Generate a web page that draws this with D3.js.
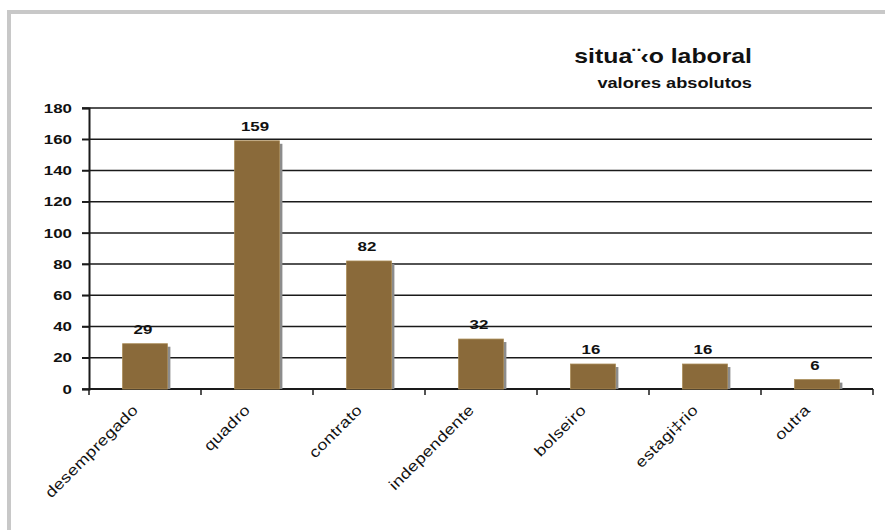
<!DOCTYPE html>
<meta charset="utf-8">
<script src="https://d3js.org/d3.v7.min.js"></script>
<style>
  body { margin: 0; background: #fff; }
  text { font-family: Arial, "Liberation Sans", sans-serif; }
</style>
<div id="chart"></div>
<script>

// data
var categories = ["desempregado", "quadro", "contrato", "independente", "bolseiro", "estagi‡rio", "outra"];
var values = [29, 159, 82, 32, 16, 16, 6];
var yTicks = [0, 20, 40, 60, 80, 100, 120, 140, 160, 180];

var width = 885,
    height = 530;

// the original picture is stretched sideways, so its text is too
var stretch = 1.3;

var svg = d3.select("#chart")
    .append("svg")
        .attr("width", width)
        .attr("height", height);

// grey frame (top and left)
svg.append("rect").attr("x", 7).attr("y", 10).attr("width", width - 7).attr("height", 4).attr("fill", "#c8c8c8");
svg.append("rect").attr("x", 7).attr("y", 10).attr("width", 4).attr("height", height - 10).attr("fill", "#c8c8c8");

var x = d3.scaleBand()
    .domain(categories)
    .range([89, 873])
    .paddingInner(0)
    .paddingOuter(0);

var y = d3.scaleLinear()
    .domain([0, 180])
    .range([389, 108]);

// gridlines
svg.append("g")
    .selectAll("line")
    .data(yTicks)
    .enter()
    .append("line")
        .attr("x1", 82)
        .attr("x2", 872)
        .attr("y1", function(d) { return y(d); })
        .attr("y2", function(d) { return y(d); })
        .attr("stroke", "#1a1a1a")
        .attr("stroke-width", 1.5);

// y axis
var yAxis = svg.append("g")
    .attr("transform", "translate(89,0)")
    .call(d3.axisLeft(y).tickValues(yTicks).tickSize(7).tickPadding(10));
yAxis.select(".domain").attr("stroke", "#1a1a1a").attr("stroke-width", 2);
yAxis.selectAll(".tick line").attr("stroke", "#1a1a1a").attr("stroke-width", 1.5);
yAxis.selectAll("text")
    .attr("x", -17 / stretch)
    .attr("transform", "scale(" + stretch + ",1)")
    .style("font-size", "13px")
    .style("font-weight", "bold")
    .attr("fill", "#111");

// x axis
var xAxis = svg.append("g")
    .attr("transform", "translate(0,389)");
xAxis.append("line")
    .attr("x1", 89).attr("x2", 873)
    .attr("stroke", "#1a1a1a").attr("stroke-width", 2);
xAxis.selectAll(".xtick")
    .data(categories.concat(["end"]))
    .enter()
    .append("line")
        .attr("x1", function(d, i) { return i < categories.length ? x(d) : x.range()[1]; })
        .attr("x2", function(d, i) { return i < categories.length ? x(d) : x.range()[1]; })
        .attr("y1", 0)
        .attr("y2", 6)
        .attr("stroke", "#1a1a1a")
        .attr("stroke-width", 1.5);

xAxis.selectAll(".xlabel")
    .data(categories)
    .enter()
    .append("text")
        .attr("transform", function(d) {
            return "translate(" + (x(d) + x.bandwidth() / 2 - 6) + ",22) rotate(-45) scale(1.2,1)";
        })
        .style("text-anchor", "end")
        .style("font-size", "15px")
        .style("letter-spacing", "0.3px")
        .attr("fill", "#111")
        .text(function(d) { return d; });

var bw = x.bandwidth() * 0.4;

// shadows
svg.append("g")
    .selectAll("rect")
    .data(values)
    .enter()
    .append("rect")
        .attr("x", function(d, i) { return x(categories[i]) + (x.bandwidth() - bw) / 2 + 3; })
        .attr("y", function(d) { return y(d) + 3; })
        .attr("width", bw)
        .attr("height", function(d) { return 389 - y(d) - 3; })
        .attr("fill", "#8c8c8c");

// bars
svg.append("g")
    .selectAll("rect")
    .data(values)
    .enter()
    .append("rect")
        .attr("x", function(d, i) { return x(categories[i]) + (x.bandwidth() - bw) / 2; })
        .attr("y", function(d) { return y(d); })
        .attr("width", bw)
        .attr("height", function(d) { return 389 - y(d); })
        .attr("fill", "#8a6a3a")
        .attr("stroke", "#a88a55")
        .attr("stroke-width", 0.8);

// value labels
svg.append("g")
    .selectAll("text")
    .data(values)
    .enter()
    .append("text")
        .attr("transform", function(d, i) {
            return "translate(" + (x(categories[i]) + x.bandwidth() / 2 - 2) + "," + (y(d) - 10) + ") scale(" + stretch + ",1)";
        })
        .style("text-anchor", "middle")
        .style("font-size", "13px")
        .style("font-weight", "bold")
        .attr("fill", "#111")
        .text(function(d) { return d; });

// titles
svg.append("text")
    .attr("transform", "translate(752,63) scale(1.24,1)")
    .style("text-anchor", "end")
    .style("font-size", "20px")
    .style("font-weight", "bold")
    .attr("fill", "#111")
    .text("situa¨‹o laboral");

svg.append("text")
    .attr("transform", "translate(752,88) scale(" + stretch + ",1)")
    .style("text-anchor", "end")
    .style("font-size", "14px")
    .style("font-weight", "bold")
    .attr("fill", "#111")
    .text("valores absolutos");

</script>
